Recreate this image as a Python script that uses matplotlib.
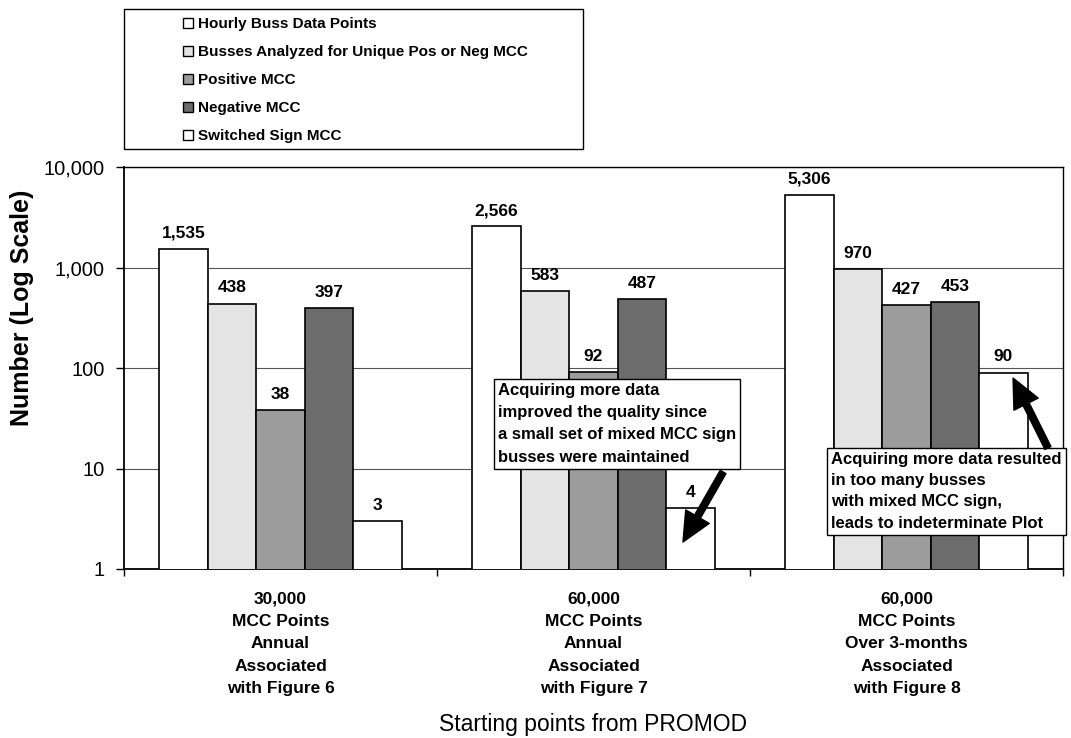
import matplotlib
matplotlib.use("Agg")
import matplotlib.pyplot as plt
from matplotlib.patches import Rectangle, Patch
from matplotlib.ticker import FixedLocator, FuncFormatter, NullFormatter
import numpy as np

plt.rcParams['font.family'] = ['Liberation Sans', 'DejaVu Sans']

# Category labels (starting points)
categories = [
    "30,000\nMCC Points\nAnnual\nAssociated\nwith Figure 6",
    "60,000\nMCC Points\nAnnual\nAssociated\nwith Figure 7",
    "60,000\nMCC Points\nOver 3-months\nAssociated\nwith Figure 8",
]

# Series names and values
series_names = [
    "Hourly Buss Data Points",
    "Busses Analyzed for Unique Pos or Neg MCC",
    "Positive MCC",
    "Negative MCC",
    "Switched Sign MCC",
]
hourly_buss = [1535, 2566, 5306]
busses_analyzed = [438, 583, 970]
positive_mcc = [38, 92, 427]
negative_mcc = [397, 487, 453]
switched_sign = [3, 4, 90]

series_values = [hourly_buss, busses_analyzed, positive_mcc, negative_mcc, switched_sign]
series_colors = ["#ffffff", "#e4e4e4", "#9c9c9c", "#6c6c6c", "#ffffff"]

yticks = [1, 10, 100, 1000, 10000]

W, H = 1071, 738
fig = plt.figure(figsize=(W / 100, H / 100), dpi=100)
ax = fig.add_axes([124 / W, 1 - 569 / H, (1063 - 124) / W, (569 - 167) / H])

x = np.arange(len(categories))
bar_w = 0.1547
n = len(series_values)
for i, (vals, col) in enumerate(zip(series_values, series_colors)):
    pos = x + (i - (n - 1) / 2) * bar_w
    bars = ax.bar(pos, vals, width=bar_w, color=col, edgecolor="black",
                  linewidth=1.2, zorder=3)
    for b, v in zip(bars, vals):
        ax.annotate(f"{v:,}", xy=(b.get_x() + b.get_width() / 2, v),
                    xytext=(0, 8), textcoords="offset points",
                    ha="center", va="baseline", fontsize=12.5,
                    fontweight="bold", zorder=4)

ax.set_yscale("log")
ax.set_ylim(1, 10000)
ax.set_xlim(-0.5, len(categories) - 0.5)

ax.yaxis.set_major_locator(FixedLocator(yticks))
ax.yaxis.set_minor_locator(FixedLocator([]))
ax.yaxis.set_major_formatter(FuncFormatter(lambda v, p: f"{int(round(v)):,}"))
ax.tick_params(axis="y", which="major", direction="out", length=6, width=1,
               pad=8, labelsize=14.5)

ax.set_xticks(x)
ax.set_xticklabels(categories, fontsize=12.5, fontweight="bold",
                   linespacing=1.62)
ax.set_xticks(np.arange(-0.5, len(categories), 1.0), minor=True)
ax.xaxis.set_minor_formatter(NullFormatter())
ax.tick_params(axis="x", which="major", length=0, pad=16)
ax.tick_params(axis="x", which="minor", direction="out", length=5, width=1)

ax.grid(axis="y", which="major", color="#555555", linewidth=0.8, zorder=0)
for s in ax.spines.values():
    s.set_color("black")
    s.set_linewidth(1.0)
ax.spines["left"].set_linewidth(1.3)
ax.spines["bottom"].set_linewidth(1.3)

ax.set_xlabel("Starting points from PROMOD", fontsize=16.5, labelpad=12)
fig.text(22 / W, 1 - 308 / H, "Number (Log Scale)", rotation=90,
         ha="center", va="center", fontsize=18, fontweight="bold")

# Legend with its own rectangular frame
handles = [Patch(facecolor=c, edgecolor="black", linewidth=1.0) for c in series_colors]
leg = fig.legend(handles, series_names, loc="upper left",
                 bbox_to_anchor=(183 / W, 1 - 17 / H), bbox_transform=fig.transFigure,
                 frameon=False, borderpad=0, borderaxespad=0,
                 handlelength=0.65, handleheight=0.65, handletextpad=0.3,
                 labelspacing=0.92, prop={"weight": "bold", "size": 11})
fig.add_artist(Rectangle((124 / W, 1 - 149 / H), (583 - 124) / W, 140 / H,
                         transform=fig.transFigure, fill=False,
                         edgecolor="black", linewidth=1.0))

# Callout boxes with arrows
box_style = dict(boxstyle="square,pad=0.25", fc="white", ec="black", lw=1.0)
ax.text(0.398, 0.4627,
        "Acquiring more data\nimproved the quality since\na small set of mixed MCC sign\nbusses were maintained",
        transform=ax.transAxes, ha="left", va="top", fontsize=12,
        fontweight="bold", linespacing=1.6, bbox=box_style, zorder=6)
ax.text(0.753, 0.291,
        "Acquiring more data resulted\nin too many busses\nwith mixed MCC sign,\nleads to indeterminate Plot",
        transform=ax.transAxes, ha="left", va="top", fontsize=12,
        fontweight="bold", linespacing=1.52, bbox=box_style, zorder=6,
        clip_on=False)

arrow_props = dict(arrowstyle="simple,head_width=1.3,head_length=1.4,tail_width=0.32",
                   fc="black", ec="black", mutation_scale=15,
                   shrinkA=0, shrinkB=0)
ax.annotate("", xy=(0.5953, 0.0672), xytext=(0.638, 0.2413),
            xycoords="axes fraction", textcoords="axes fraction",
            arrowprops=arrow_props, zorder=7)
ax.annotate("", xy=(0.9468, 0.475), xytext=(0.984, 0.301),
            xycoords="axes fraction", textcoords="axes fraction",
            arrowprops=arrow_props, zorder=7)

fig.savefig("out.png", dpi=100, facecolor="white")
